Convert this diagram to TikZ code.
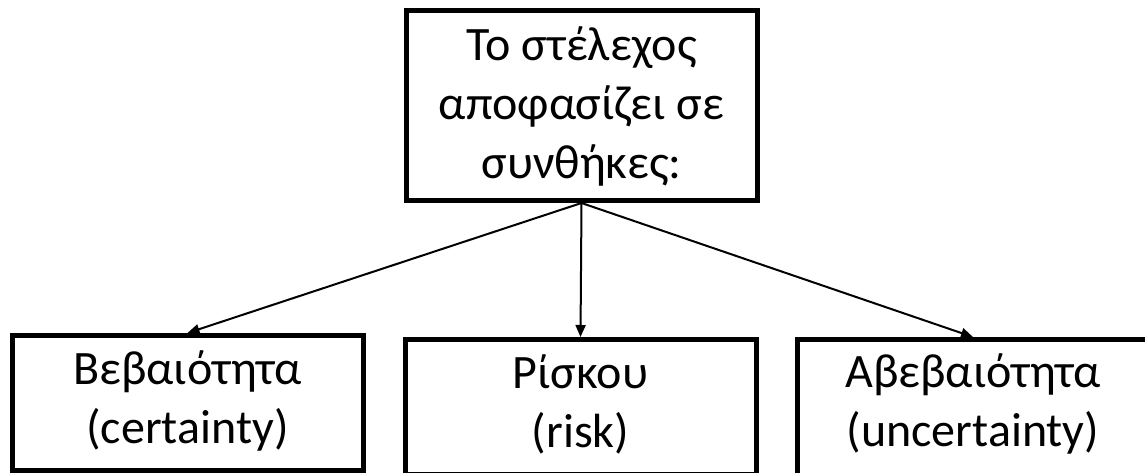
\documentclass[tikz,border=0pt]{standalone}
\usepackage{fontspec}
\setmainfont{Carlito}
\usetikzlibrary{arrows.meta}
\begin{document}
\begin{tikzpicture}[x=1pt,y=-1pt,
  box/.style={draw, line width=5pt, minimum width=351pt, inner sep=0pt},
  txt/.style={align=center, font=\fontsize{48}{59}\selectfont, inner sep=0pt},
  arr/.style={line width=2pt, -{Triangle[length=12pt,width=10pt]}}]
\useasboundingbox (0,0) rectangle (1145,472);
% decision-maker box
\node[box, minimum height=190pt] (top) at (581.5,105.5) {};
\node[txt] (toptxt) at (581.5,106) {Το στέλεχος\\αποφασίζει σε\\συνθήκες:};
% three condition boxes
\node[box, minimum height=135pt, anchor=north] (cert) at (187.5,333) {};
\node[box, minimum height=135pt, anchor=north] (risk) at (580.5,337) {};
\node[box, minimum height=136pt, anchor=north] (unc) at (973,337) {};
\node[txt] (certtxt) at (187.5,401) {Βεβαιότητα\\(certainty)};
\node[txt] (risktxt) at (580.5,404) {Ρίσκου\\(risk)};
\node[txt] (unctxt) at (973,404) {Αβεβαιότητα\\(uncertainty)};
% connectors
\draw[arr] (top.south) -- (cert.north);
\draw[arr] (top.south) -- (risk.north);
\draw[arr] (top.south) -- (unc.north);
\end{tikzpicture}
\end{document}
